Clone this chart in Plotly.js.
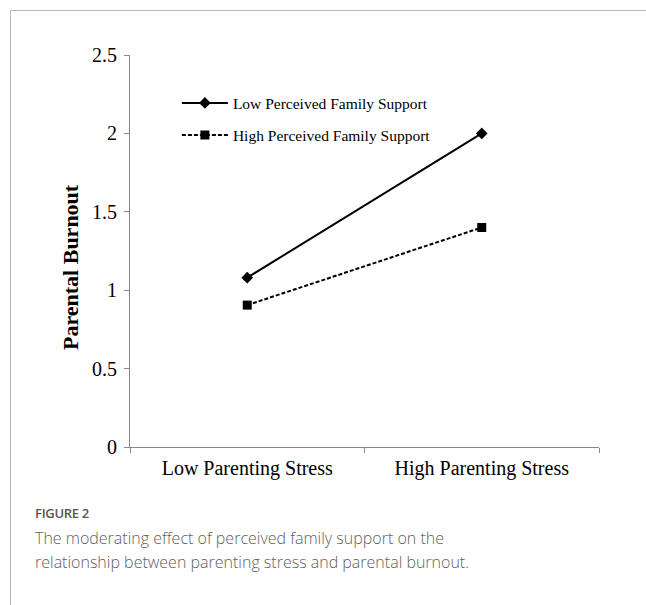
<!DOCTYPE html>
<html><head><meta charset="utf-8">
<script src="https://cdn.plot.ly/plotly-3.0.1.min.js"></script>
<style>
html,body{margin:0;padding:0;background:#fff;}
#wrap{position:relative;width:646px;height:605px;overflow:hidden;}
#frame{position:absolute;left:10px;top:10px;width:700px;height:700px;border-top:1px solid #b9b9b9;border-left:1px solid #b9b9b9;}
#chart{position:absolute;left:0;top:0;width:646px;height:605px;}
#fig{position:absolute;left:35px;top:504px;font-family:"Open Sans",sans-serif;font-size:13px;font-weight:600;color:#555;letter-spacing:-0.3px;}
#cap{position:absolute;left:35px;top:526px;font-family:"Open Sans",sans-serif;font-size:16px;line-height:24px;color:#606060;font-weight:300;}
</style></head>
<body><div id="wrap"><div id="frame"></div><div id="chart"></div>
<div id="fig">FIGURE 2</div>
<div id="cap">The moderating effect of perceived family support on the<br>relationship between parenting stress and parental burnout.</div>
</div>
<script>
const categories = ["Low Parenting Stress", "High Parenting Stress"];
const seriesNames = ["Low Perceived Family Support", "High Perceived Family Support"];
const lowSupport = [1.08, 2.0];
const highSupport = [0.905, 1.40];
const yTicks = [0, 0.5, 1, 1.5, 2, 2.5];
const yTickLabels = ["0", "0.5", "1", "1.5", "2", "2.5"];

const serif = '"Liberation Serif","Times New Roman",serif';
const traces = [
  {x: categories, y: lowSupport, name: seriesNames[0], type: "scatter", mode: "lines+markers",
   line: {color: "#000", width: 2}, marker: {symbol: "diamond", size: 9, color: "#000"}, legendgroup: "a"},
  {x: categories, y: highSupport, name: seriesNames[1], type: "scatter", mode: "lines+markers",
   line: {color: "#000", width: 2, dash: "4px,2px"}, marker: {symbol: "square", size: 9, color: "#000"}, legendgroup: "b"}
];
const tfont = {family: serif, size: 20, color: "#000"};
const layout = {
  width: 646, height: 605,
  paper_bgcolor: "rgba(0,0,0,0)", plot_bgcolor: "rgba(0,0,0,0)",
  margin: {l: 130, r: 47, t: 55, b: 158},
  showlegend: true,
  legend: {x: 0.1, y: 0.92, xanchor: "left", yanchor: "top", bgcolor: "rgba(0,0,0,0)",
    font: {family: serif, size: 15.5, color: "#000"},
    tracegroupgap: 9, itemwidth: 46, traceorder: "grouped"},
  xaxis: {type: "category", range: [-0.5, 1.5], tickson: "boundaries", ticks: "outside", ticklen: 5,
    tickcolor: "#888", showline: true, linecolor: "#888", linewidth: 1, showgrid: false, zeroline: false,
    tickfont: tfont, fixedrange: true, ticklabelstandoff: 3},
  yaxis: {range: [0, 2.5], tickvals: yTicks, ticktext: yTickLabels, ticks: "outside", ticklen: 5,
    tickcolor: "#888", showline: true, linecolor: "#888", linewidth: 1, showgrid: false, zeroline: false,
    tickfont: tfont, ticklabelstandoff: 3},
  annotations: [{text: "<b>Parental Burnout</b>", textangle: -90, xref: "paper", yref: "paper",
    x: -0.128, y: 0.459, showarrow: false, xanchor: "center", yanchor: "middle",
    font: {family: serif, size: 22, color: "#000"}}]
};
Plotly.newPlot("chart", traces, layout, {displayModeBar: false, staticPlot: true});
</script></body></html>
